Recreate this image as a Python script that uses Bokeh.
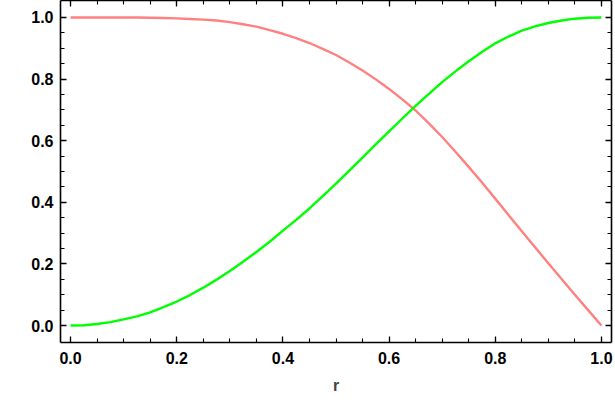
import numpy as np
from bokeh.plotting import figure
from bokeh.models import LinearAxis, FixedTicker, Range1d, PrintfTickFormatter
from bokeh.embed import file_html
from bokeh.resources import INLINE

# data
r = [0.000, 0.025, 0.050, 0.075, 0.100, 0.125, 0.150, 0.175, 0.200, 0.225,
     0.250, 0.275, 0.300, 0.325, 0.350, 0.375, 0.400, 0.425, 0.450, 0.475,
     0.500, 0.525, 0.550, 0.575, 0.600, 0.625, 0.650, 0.675, 0.700, 0.725,
     0.750, 0.775, 0.800, 0.825, 0.850, 0.875, 0.900, 0.925, 0.950, 0.975, 1.000]
green_vals = [0.000, 0.001, 0.005, 0.011, 0.020, 0.030, 0.043, 0.060, 0.078, 0.099,
              0.123, 0.149, 0.177, 0.207, 0.239, 0.272, 0.308, 0.343, 0.380, 0.420,
              0.461, 0.503, 0.545, 0.588, 0.630, 0.672, 0.713, 0.752, 0.790, 0.825,
              0.858, 0.888, 0.916, 0.938, 0.957, 0.971, 0.982, 0.990, 0.996, 0.999, 1.000]
red_vals = [1.000, 1.000, 1.000, 1.000, 1.000, 1.000, 0.999, 0.998, 0.997, 0.995,
            0.993, 0.990, 0.985, 0.978, 0.970, 0.959, 0.947, 0.933, 0.917, 0.898,
            0.878, 0.854, 0.828, 0.799, 0.768, 0.734, 0.698, 0.656, 0.612, 0.564,
            0.515, 0.464, 0.412, 0.359, 0.306, 0.254, 0.202, 0.151, 0.100, 0.050, 0.000]

major_ticks = [0.0, 0.2, 0.4, 0.6, 0.8, 1.0]
minor_ticks = [round(v, 2) for v in np.arange(0, 1.0001, 0.05)]

FONT = "Liberation Sans"

p = figure(width=615, height=404, output_backend="svg", toolbar_location=None,
           x_range=Range1d(-0.019, 1.019), y_range=Range1d(-0.055, 1.055),
           x_axis_location=None, y_axis_location=None,
           min_border_left=60, min_border_right=4, min_border_top=0, min_border_bottom=62)
p.xgrid.visible = False
p.ygrid.visible = False
p.outline_line_color = None
p.background_fill_color = "white"
p.border_fill_color = "white"

p.line(r, red_vals, line_color="#FF8080", line_width=2.4, line_join="round")
p.line(r, green_vals, line_color="#00FF00", line_width=2.4, line_join="round")

ticker = FixedTicker(ticks=major_ticks, minor_ticks=minor_ticks)

def style(ax, labels=True):
    ax.ticker = ticker
    ax.axis_line_color = "black"
    ax.axis_line_width = 1.6
    ax.major_tick_in = 6
    ax.major_tick_out = 0
    ax.minor_tick_in = 4
    ax.minor_tick_out = 0
    ax.major_tick_line_width = 1.3
    ax.minor_tick_line_width = 1.1
    ax.major_tick_line_color = "black"
    ax.minor_tick_line_color = "black"
    if labels:
        ax.formatter = PrintfTickFormatter(format="%.1f")
        ax.major_label_text_font = FONT
        ax.major_label_text_font_style = "bold"
        ax.major_label_text_font_size = "16px"
        ax.major_label_text_color = "black"
    else:
        ax.major_label_text_font_size = "0px"
        ax.major_label_standoff = 0
        ax.major_label_text_alpha = 0

xb = LinearAxis(axis_label="r")
style(xb)
xb.major_label_standoff = 9
xb.axis_label_text_font = FONT
xb.axis_label_text_font_style = "bold"
xb.axis_label_text_font_size = "16px"
xb.axis_label_standoff = 10
p.add_layout(xb, "below")

yl = LinearAxis()
style(yl)
yl.major_label_standoff = 7
p.add_layout(yl, "left")

xt = LinearAxis()
style(xt, labels=False)
p.add_layout(xt, "above")

yr = LinearAxis()
style(yr, labels=False)
p.add_layout(yr, "right")

open("out.html", "w").write(file_html(p, INLINE))
